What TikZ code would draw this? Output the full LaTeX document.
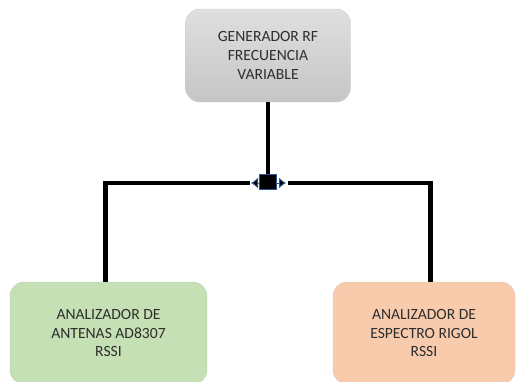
\documentclass[tikz,border=0pt]{standalone}
\usepackage{fontspec}
\setmainfont{Carlito}
\usepackage{xcolor}
\usetikzlibrary{arrows.meta}
\definecolor{boxgreen}{HTML}{C5E0B4}
\definecolor{boxorange}{HTML}{F8CBAD}
\definecolor{handleblue}{HTML}{2F5597}
\colorlet{txtgray}{black!82}
\tikzstyle{blk}=[rounded corners=14pt,align=center,text=txtgray,
  font=\fontsize{15.6}{18.8}\selectfont,inner sep=0pt]
\tikzstyle{wire}=[line width=4.5pt,line join=miter]
\tikzstyle{sqbox}=[fill=black,draw=handleblue,line width=1pt,inner sep=0pt,
  minimum width=17pt,minimum height=15pt]
\tikzstyle{handle}=[line width=1pt,draw=handleblue,
  {Latex[length=7pt,width=11pt,fill=black]}-{Latex[length=7pt,width=11pt,fill=black]}]

\begin{document}
\begin{tikzpicture}[x=1pt,y=-1pt]
	\useasboundingbox (0,0) rectangle (519,381);
	\clip (0,0) rectangle (519,381);
	\node[blk, draw=gray!35, top color=gray!25, bottom color=gray!45,
	      minimum width=165pt, minimum height=93pt] (gen) at (268,55.5)
	      {GENERADOR RF\\FRECUENCIA\\VARIABLE};
	\node[blk, draw=boxgreen!85!black!70, fill=boxgreen,
	      minimum width=197pt, minimum height=102pt] (ant) at (108.5,333)
	      {ANALIZADOR DE\\ANTENAS AD8307\\RSSI};
	\node[blk, draw=boxorange!85!black!70, fill=boxorange,
	      minimum width=182pt, minimum height=102pt] (esp) at (424,333)
	      {ANALIZADOR DE\\ESPECTRO RIGOL\\RSSI};
	% junction
	\node[sqbox] (sq) at (268,182) {};
	\coordinate (hl) at (251,183);
	\coordinate (hr) at (286,183);
	\draw[wire] (gen) -- (sq);
	\draw[wire] ([xshift=-1pt]hl) -| ([xshift=-3pt]ant.north);
	\draw[wire] ([xshift=2pt]hr) -| ([xshift=6.5pt]esp.north);
	\draw[handle] (hl) -- (hr);
	\node[sqbox] at (sq) {};
\end{tikzpicture}
\end{document}
